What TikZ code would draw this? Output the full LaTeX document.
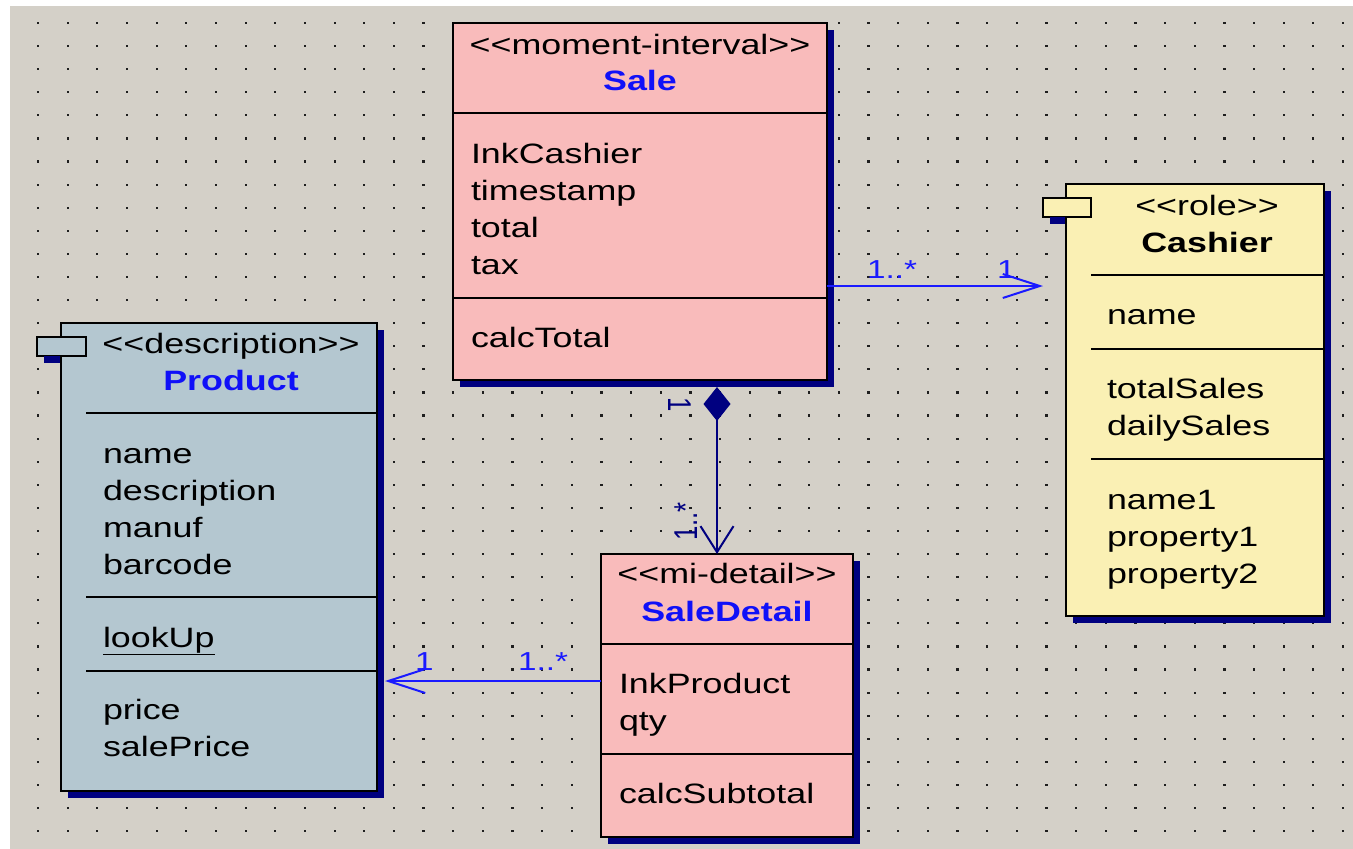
\documentclass[tikz,border=0pt]{standalone}
\usepackage{fontspec}
\setmainfont{Liberation Sans}[FakeStretch=1.28,Ligatures=TeXOff]
\newfontfamily\rotfont{Liberation Sans}[FakeStretch=0.78,Ligatures=TeXOff]
\usetikzlibrary{arrows.meta,shadows,calc}
\definecolor{bggray}{HTML}{D4D0C8}
\definecolor{pinkfill}{HTML}{F9BBBB}
\definecolor{bluefill}{HTML}{B4C7D0}
\definecolor{yellowfill}{HTML}{FAF0B4}
\definecolor{navy}{HTML}{000080}
\definecolor{namebl}{HTML}{1010F8}
\definecolor{assocbl}{HTML}{1A1AFF}
\definecolor{dotc}{HTML}{1E1E1E}
\newcommand\mystrut{\rule{0pt}{21pt}}
\begin{document}
\begin{tikzpicture}[x=1pt,y=-1pt,
  box/.style={draw=black,line width=2pt,inner sep=0pt,outer sep=0pt,anchor=north west,
    drop shadow={shadow xshift=7pt,shadow yshift=-7pt,fill=navy,opacity=1}},
  tab/.style={draw=black,line width=2pt,inner sep=0pt,outer sep=0pt,anchor=north west},
  sep/.style={draw=black,line width=2pt},
  txt/.style={font=\fontsize{28}{37}\selectfont,text=black,inner sep=0pt,outer sep=0pt,align=left,anchor=north west},
  stereo/.style={font=\fontsize{28}{37}\selectfont,text=black,inner sep=0pt,anchor=base},
  cname/.style={font=\fontsize{28}{37}\selectfont\bfseries,text=namebl,inner sep=0pt,anchor=base},
  assoc/.style={draw=assocbl,line width=2pt,-{Straight Barb[length=37pt,width=24pt,line width=2pt]}},
  comp/.style={draw=navy,line width=2pt,{Diamond[length=34pt,width=27pt,fill=navy]}-{Straight Barb[length=26pt,width=33pt,line width=2pt]}},
  mult/.style={font=\fontsize{26}{30}\selectfont,text=assocbl,inner sep=0pt,anchor=base west},
  rmult/.style={font=\rotfont\fontsize{33}{36}\selectfont,text=navy,inner sep=0pt,anchor=base west}
]
\useasboundingbox (0,0) rectangle (1353,849);
\fill[white] (0,0) rectangle (1353,849);
\fill[bggray] (10,6) rectangle (1353,849);
% dotted grid
\foreach \i in {0,...,44}{
  \foreach \j in {0,...,35}{
    \fill[dotc] ({38+29.66*\i-1.1},{23+23.09*\j-1.1}) rectangle +(2.2,2.2);
  }
}

% ---------- Sale ----------
\node[box,fill=pinkfill,minimum width=374pt,minimum height=357pt] (sale) at (453,23) {};
\draw[sep] (sale.west |- 0,113) -- (sale.east |- 0,113);
\draw[sep] (sale.west |- 0,298) -- (sale.east |- 0,298);
\node[stereo] (saleS) at (640,54) {<<moment-interval>>};
\node[cname] (saleN) at (640,90) {Sale};
\node[txt] (saleA) at (471,142) {\mystrut InkCashier\\timestamp\\total\\tax};
\node[txt] (saleO) at (471,326) {\mystrut calcTotal};

% ---------- Cashier ----------
\node[box,fill=yellowfill,minimum width=258pt,minimum height=432pt] (cashier) at (1066,184) {};
\node[tab,fill=yellowfill,minimum width=48pt,minimum height=19pt] (ctab) at (1043,198) {};
\fill[navy] ($(ctab.south west)+(7,7)$) rectangle ($(cashier.west |- ctab.south)+(-1,0)$);
\draw[sep] (ctab.east |- 0,275) -- (cashier.east |- 0,275);
\draw[sep] (ctab.east |- 0,349) -- (cashier.east |- 0,349);
\draw[sep] (ctab.east |- 0,459) -- (cashier.east |- 0,459);
\node[stereo] (cashS) at (1207,215) {<<role>>};
\node[cname,text=black] (cashN) at (1207,252) {Cashier};
\node[txt] (cashA) at (1107,303) {\mystrut name};
\node[txt] (cashB) at (1107,377) {\mystrut totalSales\\dailySales};
\node[txt] (cashC) at (1107,488) {\mystrut name1\\property1\\property2};

% ---------- Product ----------
\node[box,fill=bluefill,minimum width=316pt,minimum height=468pt] (product) at (61,323) {};
\node[tab,fill=bluefill,minimum width=49pt,minimum height=19pt] (ptab) at (37,337) {};
\fill[navy] ($(ptab.south west)+(7,7)$) rectangle ($(product.west |- ptab.south)+(-1,0)$);
\draw[sep] (ptab.east |- 0,413) -- (product.east |- 0,413);
\draw[sep] (ptab.east |- 0,597) -- (product.east |- 0,597);
\draw[sep] (ptab.east |- 0,671) -- (product.east |- 0,671);
\node[stereo] (prodS) at (231,353) {<<description>>};
\node[cname] (prodN) at (231,390) {Product};
\node[txt] (prodA) at (103,442) {\mystrut name\\description\\manuf\\barcode};
\node[txt] (prodO) at (103,626) {\mystrut\underline{lookUp}};
\node[txt] (prodC) at (103,698) {\mystrut price\\salePrice};

% ---------- SaleDetail ----------
\node[box,fill=pinkfill,minimum width=252pt,minimum height=283pt] (sd) at (601,554) {};
\draw[sep] (sd.west |- 0,644) -- (sd.east |- 0,644);
\draw[sep] (sd.west |- 0,754) -- (sd.east |- 0,754);
\node[stereo] (sdS) at (727,583) {<<mi-detail>>};
\node[cname] (sdN) at (727,621) {SaleDetail};
\node[txt] (sdA) at (619,672) {\mystrut InkProduct\\qty};
\node[txt] (sdO) at (619,782) {\mystrut calcSubtotal};

% ---------- connectors ----------
\draw[assoc] (sale.east |- 0,286) -- (ctab.west |- 0,286);
\node[mult] (m1) at (867,278) {1..*};
\node[mult] (m2) at (997,278) {1};

\draw[comp] ($(sale.south)+(77,7)$) -- ($(sd.north)+(-10,0)$);
\node[rmult,rotate=-90] (m3) at (668,397) {1};
\node[rmult,rotate=90] (m4) at (697,541) {1..*};

\draw[assoc] (sd.west |- 0,681) -- ($(product.east |- 0,681)+(8,0)$);
\node[mult] (m5) at (415,670) {1};
\node[mult] (m6) at (518,670) {1..*};
\end{tikzpicture}
\end{document}
